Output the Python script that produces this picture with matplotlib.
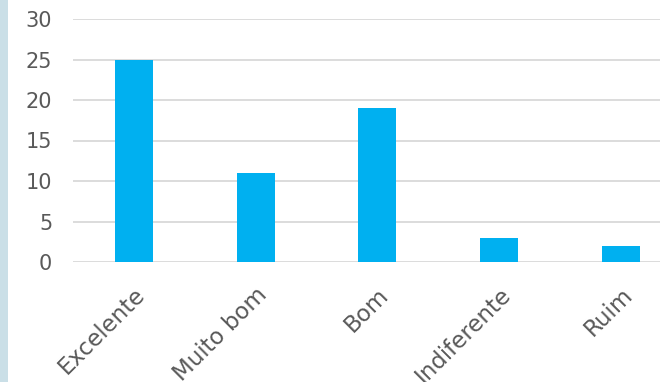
import matplotlib
matplotlib.use("Agg")
import matplotlib.pyplot as plt
from matplotlib.patches import Rectangle

categories = ["Excelente", "Muito bom", "Bom", "Indiferente", "Ruim"]
values = [25, 11, 19, 3, 2]
yticks = [0, 5, 10, 15, 20, 25, 30]

W, H = 660, 382
fig = plt.figure(figsize=(W / 100, H / 100), dpi=100)
fig.patch.set_facecolor("white")
# left decorative strip
fig.patches.append(Rectangle((0, 0), 8 / W, 1, transform=fig.transFigure,
                             facecolor="#cadfe7", edgecolor="none", zorder=0))

left = 73 / W
bottom = (H - 262) / H
top = (H - 19) / H
ax = fig.add_axes([left, bottom, 1 - left, top - bottom])
step = 121.75
xmax = (W - 73) / step - 0.5
ax.set_xlim(-0.5, xmax)
ax.set_ylim(0, 30)

ax.bar(range(len(categories)), values, width=38 / step, color="#00b0f0", zorder=3)

ax.set_yticks(yticks)
ax.yaxis.grid(True, color="#d9d9d9", linewidth=1.3, zorder=0)
ax.set_axisbelow(True)
for s in ax.spines.values():
    s.set_visible(False)
ax.tick_params(axis="both", length=0, colors="#595959")
ax.tick_params(axis="y", pad=15, labelsize=15)
ax.set_xticks(range(len(categories)))
ax.set_xticklabels(categories, rotation=45, ha="right", rotation_mode="anchor",
                   fontsize=16.5)
ax.tick_params(axis="x", pad=15)
for t in ax.get_xticklabels() + ax.get_yticklabels():
    t.set_color("#595959")

fig.savefig("out.png", dpi=100)
